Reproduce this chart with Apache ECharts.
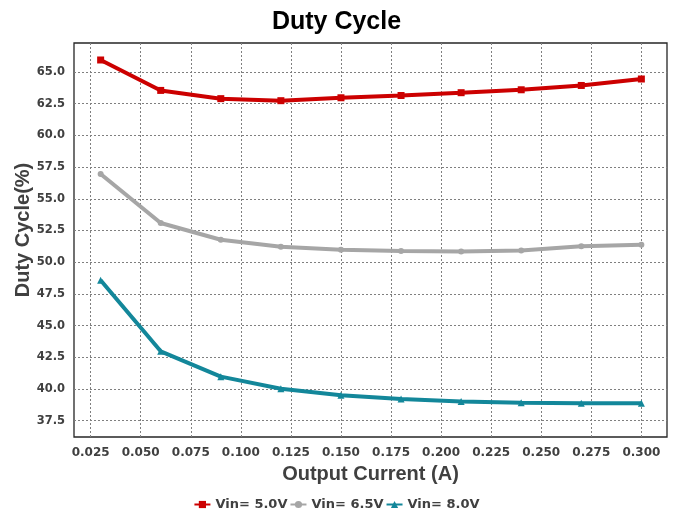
<!DOCTYPE html>
<html>
<head>
<meta charset="utf-8">
<script src="https://cdn.jsdelivr.net/npm/echarts@6/dist/echarts.min.js"></script>
<style>html,body{margin:0;padding:0;background:#fff;}#c{width:673px;height:516px;}</style>
</head>
<body>
<div id="c"></div>
<script>
const xValues = [0.03, 0.06, 0.09, 0.12, 0.15, 0.18, 0.21, 0.24, 0.27, 0.30];
const vin50 = [65.95, 63.55, 62.9, 62.74, 62.97, 63.15, 63.37, 63.6, 63.94, 64.45];
const vin65 = [56.96, 53.09, 51.77, 51.22, 50.99, 50.88, 50.85, 50.93, 51.25, 51.38];
const vin80 = [48.57, 42.97, 40.97, 40.02, 39.5, 39.21, 39.02, 38.92, 38.87, 38.87];
const xTicks = [0.025, 0.05, 0.075, 0.1, 0.125, 0.15, 0.175, 0.2, 0.225, 0.25, 0.275, 0.3];
const yTicks = [37.5, 40.0, 42.5, 45.0, 47.5, 50.0, 52.5, 55.0, 57.5, 60.0, 62.5, 65.0];
const seriesNames = ['Vin= 5.0V', 'Vin= 6.5V', 'Vin= 8.0V'];
const colors = ['#CC0000', '#A6A6A6', '#13879A'];
const symbols = ['rect', 'circle', 'triangle'];

const pair = arr => xValues.map((x, i) => [x, arr[i]]);
const data = [vin50, vin65, vin80];

const chart = echarts.init(document.getElementById('c'));
const lblFont = 'DejaVu Sans';
chart.setOption({
  animation: false,
  backgroundColor: '#fff',
  title: {
    text: 'Duty Cycle', left: 'center', top: 5,
    textStyle: {fontFamily: 'Liberation Sans', fontWeight: 'bold', fontSize: 25, color: '#000'}
  },
  legend: {
    bottom: 0, left: 'center', itemWidth: 16, itemHeight: 9, itemGap: 2,
    textStyle: {fontFamily: lblFont, fontWeight: 'bold', fontSize: 13, color: '#404040'},
    data: seriesNames
  },
  grid: {left: 74, top: 43, right: 6, bottom: 79, show: true, borderColor: '#262626', borderWidth: 1.3},
  xAxis: {
    type: 'value', min: 0.0167, max: 0.3128,
    name: 'Output Current (A)', nameLocation: 'middle', nameGap: 27,
    nameTextStyle: {fontFamily: 'Liberation Sans', fontWeight: 'bold', fontSize: 20, color: '#404040'},
    axisLine: {show: false},
    axisTick: {show: false, customValues: xTicks},
    axisLabel: {customValues: xTicks, formatter: v => v.toFixed(3), margin: 10,
      fontFamily: lblFont, fontWeight: 'bold', fontSize: 12, color: '#404040'},
    splitLine: {show: true, lineStyle: {color: '#7f7f7f', type: [2, 2], width: 1}}
  },
  yAxis: {
    type: 'value', min: 36.21, max: 67.29,
    name: 'Duty Cycle(%)', nameLocation: 'middle', nameGap: 41, nameMoveOverlap: false,
    nameTextStyle: {fontFamily: 'Liberation Sans', fontWeight: 'bold', fontSize: 20, color: '#404040', padding: [0, 0, 0, 20]},
    axisLine: {show: false},
    axisTick: {show: false, customValues: yTicks},
    axisLabel: {customValues: yTicks, formatter: v => v.toFixed(1), margin: 9,
      fontFamily: lblFont, fontWeight: 'bold', fontSize: 11.5, color: '#404040'},
    splitLine: {show: true, lineStyle: {color: '#7f7f7f', type: [2, 2], width: 1}}
  },
  series: data.map((arr, i) => ({
    name: seriesNames[i], type: 'line', data: pair(arr),
    symbol: symbols[i], symbolSize: i === 1 ? 6 : 7, showSymbol: true,
    lineStyle: {color: colors[i], width: 4},
    itemStyle: {color: colors[i]}
  }))
});
</script>
</body>
</html>
